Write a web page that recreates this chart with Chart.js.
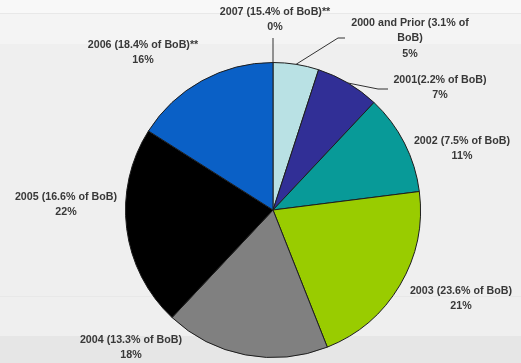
<!DOCTYPE html>
<html>
<head>
<meta charset="utf-8">
<script src="https://cdn.jsdelivr.net/npm/chart.js@4.4.1/dist/chart.umd.min.js"></script>
<style>
  html, body { margin: 0; padding: 0; background: #efefef; }
  #wrap { width: 521px; height: 363px; position: relative; }
</style>
</head>
<body>
<div id="wrap"><canvas id="pieChart" width="521" height="363"></canvas></div>
<script>
// Vintage year buckets, share of portfolio (%)
const categories = [
    ['2007 (15.4% of BoB)**'],
    ['2000 and Prior (3.1% of', 'BoB)'],
    ['2001(2.2% of BoB)'],
    ['2002 (7.5% of BoB)'],
    ['2003 (23.6% of BoB)'],
    ['2004 (13.3% of BoB)'],
    ['2005 (16.6% of BoB)'],
    ['2006 (18.4% of BoB)**']
];
const shares = [0, 5, 7, 11, 21, 18, 22, 16];
const sliceColors = ['#1560c8', '#b9e1e4', '#312f96', '#089a98', '#99cc00', '#808080', '#000000', '#0a60c6'];

// label placement (text centre x, first line y)
const labelPos = [[275, 12], [410, 23], [440, 80], [462, 141], [461, 291], [131, 340], [66, 197], [143, 45]];
// leader elbows for the crowded top labels
const leaders = { 0: [[273, 38]], 1: [[338, 38], [345, 38]], 2: [[378, 89], [388, 89]] };

const bgPlugin = {
    id: 'bgBands',
    beforeDraw(chart) {
        const c = chart.ctx;
        c.save();
        c.fillStyle = '#f8f8f8'; c.fillRect(0, 0, 521, 14);
        c.fillStyle = '#f4f4f4'; c.fillRect(0, 14, 521, 30);
        c.fillStyle = '#efefef'; c.fillRect(0, 44, 521, 292);
        c.fillStyle = '#e6e6e6'; c.fillRect(0, 336, 521, 27);
        c.fillStyle = '#e8e8e8'; c.fillRect(0, 13, 521, 1);
        c.fillRect(0, 296, 521, 1);
        c.restore();
    }
};

const labelPlugin = {
    id: 'sliceLabels',
    afterDraw(chart) {
        const c = chart.ctx;
        const meta = chart.getDatasetMeta(0);
        c.save();
        c.font = 'bold 10.7px "Liberation Sans", Arial, sans-serif';
        c.fillStyle = '#383838';
        c.textAlign = 'center';
        c.textBaseline = 'middle';
        categories.forEach((lines, i) => {
            const [x, y] = labelPos[i];
            const all = lines.concat([shares[i] + '%']);
            all.forEach((t, k) => c.fillText(t, x, y + k * 15.5));
        });
        // leader lines from slice edge
        c.strokeStyle = '#333';
        c.lineWidth = 1;
        Object.keys(leaders).forEach(k => {
            const arc = meta.data[k];
            const mid = (arc.startAngle + arc.endAngle) / 2;
            c.beginPath();
            c.moveTo(arc.x + arc.outerRadius * Math.cos(mid), arc.y + arc.outerRadius * Math.sin(mid));
            leaders[k].forEach(p => c.lineTo(p[0], p[1]));
            c.stroke();
        });
        c.restore();
    }
};

new Chart(document.getElementById('pieChart'), {
    type: 'pie',
    data: {
        labels: categories,
        datasets: [{
            data: shares,
            backgroundColor: sliceColors,
            borderColor: '#1e1e1e',
            borderWidth: 1,
            hoverOffset: 0
        }]
    },
    options: {
        responsive: false,
        animation: false,
        layout: { padding: { left: 125, right: 100, top: 62, bottom: 5 } },
        plugins: {
            legend: { display: false },
            tooltip: { enabled: false }
        }
    },
    plugins: [bgPlugin, labelPlugin]
});
</script>
</body>
</html>
